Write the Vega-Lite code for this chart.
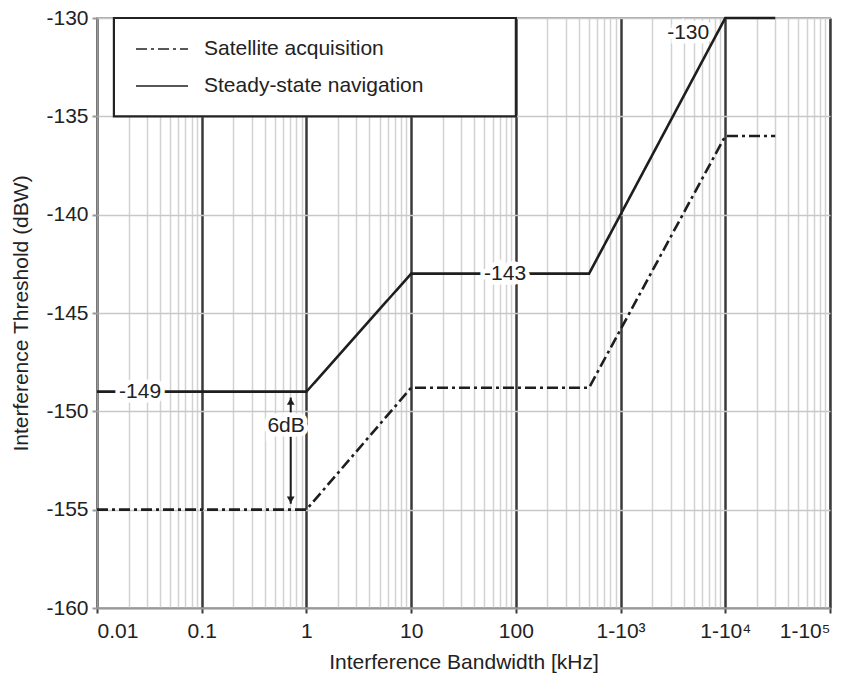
{
  "$schema": "https://vega.github.io/schema/vega-lite/v6.json",
  "width": 733,
  "height": 590,
  "autosize": "none",
  "padding": {"left": 97, "top": 18, "right": 27, "bottom": 69},
  "background": "white",
  "config": {
    "font": "Liberation Sans",
    "view": {"stroke": "#a8a8a8", "strokeWidth": 2},
    "text": {"font": "Liberation Sans"}
  },
  "datasets": {
    "series": [
      {"bw": 0.01, "thr": -149, "mode": "Steady-state navigation"},
      {"bw": 1, "thr": -149, "mode": "Steady-state navigation"},
      {"bw": 10, "thr": -143, "mode": "Steady-state navigation"},
      {"bw": 500, "thr": -143, "mode": "Steady-state navigation"},
      {"bw": 10000, "thr": -130, "mode": "Steady-state navigation"},
      {"bw": 30000, "thr": -130, "mode": "Steady-state navigation"},
      {"bw": 0.01, "thr": -155, "mode": "Satellite acquisition"},
      {"bw": 1, "thr": -155, "mode": "Satellite acquisition"},
      {"bw": 10, "thr": -148.8, "mode": "Satellite acquisition"},
      {"bw": 500, "thr": -148.8, "mode": "Satellite acquisition"},
      {"bw": 10000, "thr": -136, "mode": "Satellite acquisition"},
      {"bw": 30000, "thr": -136, "mode": "Satellite acquisition"}
    ],
    "box": [{"x1": 0.0145, "x2": 100, "y1": -135, "y2": -130}],
    "labels": [
      {"bw": 0.0258, "thr": -149, "txt": "-149"},
      {"bw": 79, "thr": -143, "txt": "-143"},
      {"bw": 4420, "thr": -130.75, "txt": "-130"},
      {"bw": 0.64, "thr": -150.75, "txt": "6dB"}
    ],
    "arrow": [{"bw": 0.708, "top": -149.3, "bottom": -154.7}],
    "heads": [
      {"bw": 0.708, "thr": -149.5, "dir": "up"},
      {"bw": 0.708, "thr": -154.5, "dir": "down"}
    ]
  },
  "encoding": {},
  "layer": [
    {
      "data": {"name": "box"},
      "mark": {"type": "rect", "fill": "white", "stroke": "#222", "strokeWidth": 2.2},
      "encoding": {
        "x": {
          "field": "x1", "type": "quantitative",
          "scale": {"type": "log", "domain": [0.01, 100000], "nice": false},
          "axis": {
            "title": "Interference Bandwidth [kHz]",
            "titleFontSize": 21, "titleFontWeight": "normal", "titleColor": "#222", "titlePadding": 10,
            "values": [0.01,0.02,0.03,0.04,0.05,0.06,0.07,0.08,0.09,0.1,0.2,0.3,0.4,0.5,0.6,0.7,0.8,0.9,1,2,3,4,5,6,7,8,9,10,20,30,40,50,60,70,80,90,100,200,300,400,500,600,700,800,900,1000,2000,3000,4000,5000,6000,7000,8000,9000,10000,20000,30000,40000,50000,60000,70000,80000,90000,100000],
            "labelExpr": "datum.value==0.01?'0.01':datum.value==0.1?'0.1':datum.value==1?'1':datum.value==10?'10':datum.value==100?'100':datum.value==1000?'1-10³':datum.value==10000?'1-10⁴':datum.value==100000?'1-10⁵':''",
            "labelOverlap": false,
            "labelFontSize": 21, "labelColor": "#222", "labelPadding": 7,
            "grid": true,
            "gridColor": {"condition": {"test": "indexof([0.01,0.1,1,10,100,1000,10000,100000], datum.value) >= 0", "value": "#3a3a3a"}, "value": "#d2d2d2"},
            "gridWidth": {"condition": {"test": "indexof([0.01,0.1,1,10,100,1000,10000,100000], datum.value) >= 0", "value": 2.5}, "value": 1.5},
            "tickColor": {"condition": {"test": "indexof([0.01,0.1,1,10,100,1000,10000,100000], datum.value) >= 0", "value": "#3a3a3a"}, "value": "transparent"},
            "tickWidth": 2,
            "tickSize": 5,
            "domainColor": "#999", "domainWidth": 2
          }
        },
        "x2": {"field": "x2"},
        "y": {
          "field": "y1", "type": "quantitative",
          "scale": {"domain": [-160, -130], "nice": false, "zero": false},
          "axis": {
            "title": "Interference Threshold (dBW)",
            "titleFontSize": 21, "titleFontWeight": "normal", "titleColor": "#222", "titlePadding": 14,
            "values": [-160, -155, -150, -145, -140, -135, -130],
            "labelExpr": "'-' + abs(datum.value)",
            "labelFontSize": 21, "labelColor": "#222", "labelPadding": 4,
            "grid": true, "gridColor": "#c8c8c8", "gridWidth": 1.5,
            "tickColor": "#999", "tickWidth": 2, "tickSize": 5,
            "domainColor": "#999", "domainWidth": 2
          }
        },
        "y2": {"field": "y2"}
      }
    },
    {
      "data": {"name": "series"},
      "mark": {"type": "line", "color": "#1e1e1e", "strokeWidth": 2.6},
      "encoding": {
        "x": {"field": "bw", "type": "quantitative"},
        "y": {"field": "thr", "type": "quantitative"},
        "strokeDash": {
          "field": "mode", "type": "nominal",
          "scale": {"domain": ["Satellite acquisition", "Steady-state navigation"], "range": [[11, 4, 3, 4], [1, 0]]},
          "legend": {
            "title": null,
            "orient": "none",
            "legendX": 38,
            "legendY": 4,
            "direction": "vertical",
            "symbolType": "stroke",
            "symbolSize": 2704,
            "symbolStrokeWidth": 1.3,
            "symbolStrokeColor": "#222",
            "labelFontSize": 21,
            "labelColor": "#222",
            "labelLimit": 0,
            "labelOffset": 15,
            "rowPadding": -16,
            "padding": 0
          }
        }
      }
    },
    {
      "data": {"name": "arrow"},
      "mark": {"type": "rule", "color": "#1e1e1e", "strokeWidth": 2},
      "encoding": {
        "x": {"field": "bw", "type": "quantitative"},
        "y": {"field": "top", "type": "quantitative"},
        "y2": {"field": "bottom"}
      }
    },
    {
      "data": {"name": "heads"},
      "mark": {"type": "point", "filled": true, "color": "#1e1e1e", "size": 60, "opacity": 1},
      "encoding": {
        "x": {"field": "bw", "type": "quantitative"},
        "y": {"field": "thr", "type": "quantitative"},
        "shape": {
          "field": "dir", "type": "nominal",
          "scale": {"domain": ["up", "down"], "range": ["triangle-up", "triangle-down"]},
          "legend": null
        }
      }
    },
    {
      "data": {"name": "labels"},
      "mark": {"type": "text", "fontSize": 21, "color": "white", "stroke": "white", "strokeWidth": 9, "align": "center", "baseline": "middle"},
      "encoding": {
        "x": {"field": "bw", "type": "quantitative"},
        "y": {"field": "thr", "type": "quantitative"},
        "text": {"field": "txt"}
      }
    },
    {
      "data": {"name": "labels"},
      "mark": {"type": "text", "fontSize": 21, "color": "#222", "align": "center", "baseline": "middle"},
      "encoding": {
        "x": {"field": "bw", "type": "quantitative"},
        "y": {"field": "thr", "type": "quantitative"},
        "text": {"field": "txt"}
      }
    }
  ]
}
